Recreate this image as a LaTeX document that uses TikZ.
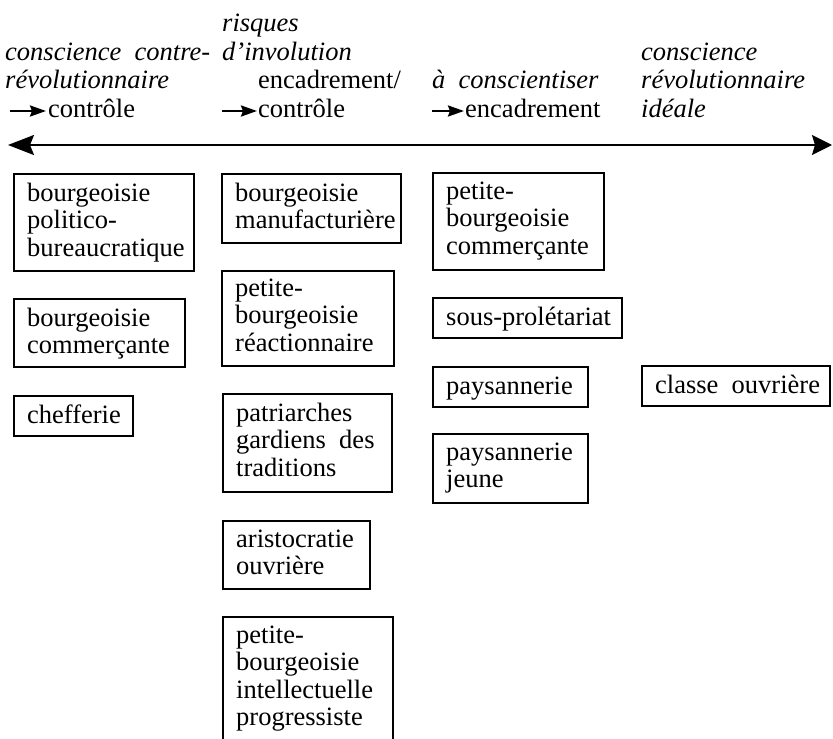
\documentclass[tikz,border=0pt]{standalone}
\usepackage{fontspec}
\setmainfont{Liberation Serif}
\usetikzlibrary{arrows.meta,calc}
\newcommand{\fsz}{\fontsize{26.5}{27.5}\selectfont}
\tikzset{
  clsbox/.style={draw, line width=1.5pt, anchor=north west, inner sep=0pt},
  clstext/.style={anchor=north west, align=left, inner sep=0pt, font=\fsz,
                  execute at begin node=\strut},
  hdr/.style={anchor=base west, inner sep=0pt, font=\fsz\itshape},
  hdrup/.style={anchor=base west, inner sep=0pt, font=\fsz},
  smallarr/.style={line width=2.4pt, -{Stealth[length=16pt,width=11pt,inset=2pt]}},
  axisarr/.style={line width=2pt,
     {Stealth[length=26pt,width=20pt,inset=4pt]}-{Stealth[length=20pt,width=20pt,inset=3pt]}}
}
\begin{document}
\begin{tikzpicture}[x=1pt,y=-1pt]
\useasboundingbox (0,0) rectangle (833,739);
\clip (0,0) rectangle (833,739);

% ---------- headers ----------
% column 1
\node[hdr] (h1a) at (5,60) {conscience\ \ contre-};
\node[hdr] (h1b) at (5,88) {révolutionnaire};
\node[hdrup] (h1c) at (48,117) {contrôle};
\coordinate (s1a) at (10,111);
\coordinate (s1b) at (46,111);
\draw[smallarr] (s1a) -- (s1b);
% column 2
\node[hdr] (h2a) at (222,31) {risques};
\node[hdr] (h2b) at (222,60) {d’involution};
\node[hdrup] (h2c) at (258,88) {encadrement/};
\node[hdrup] (h2d) at (258,117) {contrôle};
\coordinate (s2a) at (222,111);
\coordinate (s2b) at (257,111);
\draw[smallarr] (s2a) -- (s2b);
% column 3
\node[hdr] (h3a) at (432,88) {à\ \ conscientiser};
\node[hdrup] (h3b) at (465,117) {encadrement};
\coordinate (s3a) at (432,111);
\coordinate (s3b) at (464,111);
\draw[smallarr] (s3a) -- (s3b);
% column 4
\node[hdr] (h4a) at (641,60) {conscience};
\node[hdr] (h4b) at (641,88) {révolutionnaire};
\node[hdr] (h4c) at (641,117) {idéale};

% ---------- axis ----------
\coordinate (axL) at (8,145);
\coordinate (axR) at (832,145);
\draw[axisarr] (axL) -- (axR);

% ---------- column 1 ----------
\node[clsbox, minimum width=180pt, minimum height=97pt] (a1) at (13,173) {};
\node[clstext] (a1t) at ($(a1.north west)+(14,9.5)$) {bourgeoisie\\politico-\\bureaucratique};
\node[clsbox, minimum width=171pt, minimum height=68pt] (a2) at (13,298) {};
\node[clstext] (a2t) at ($(a2.north west)+(14,9.5)$) {bourgeoisie\\commerçante};
\node[clsbox, minimum width=119pt, minimum height=40pt] (a3) at (13,395) {};
\node[clstext] (a3t) at ($(a3.north west)+(14,9.5)$) {chefferie};

% ---------- column 2 ----------
\node[clsbox, minimum width=179pt, minimum height=69pt] (b1) at (221,173) {};
\node[clstext] (b1t) at ($(b1.north west)+(14,9.5)$) {bourgeoisie\\manufacturière};
\node[clsbox, minimum width=172pt, minimum height=95pt] (b2) at (221,270) {};
\node[clstext] (b2t) at ($(b2.north west)+(14,8.5)$) {petite-\\bourgeoisie\\réactionnaire};
\node[clsbox, minimum width=169pt, minimum height=98pt] (b3) at (222,393) {};
\node[clstext] (b3t) at ($(b3.north west)+(14,9.5)$) {patriarches\\gardiens\ \ des\\traditions};
\node[clsbox, minimum width=147pt, minimum height=68pt] (b4) at (222,520) {};
\node[clstext] (b4t) at ($(b4.north west)+(14,9.5)$) {aristocratie\\ouvrière};
\node[clsbox, minimum width=170pt, minimum height=126pt] (b5) at (222,616) {};
\node[clstext] (b5t) at ($(b5.north west)+(14,9.5)$) {petite-\\bourgeoisie\\intellectuelle\\progressiste};

% ---------- column 3 ----------
\node[clsbox, minimum width=171pt, minimum height=97pt] (c1) at (432,172) {};
\node[clstext] (c1t) at ($(c1.north west)+(14,9.5)$) {petite-\\bourgeoisie\\commerçante};
\node[clsbox, minimum width=189pt, minimum height=40pt] (c2) at (432,297) {};
\node[clstext] (c2t) at ($(c2.north west)+(14,9.5)$) {sous-prolétariat};
\node[clsbox, minimum width=155pt, minimum height=40pt] (c3) at (432,366) {};
\node[clstext] (c3t) at ($(c3.north west)+(14,9.5)$) {paysannerie};
\node[clsbox, minimum width=155pt, minimum height=69pt] (c4) at (432,433) {};
\node[clstext] (c4t) at ($(c4.north west)+(14,9.5)$) {paysannerie\\jeune};

% ---------- column 4 ----------
\node[clsbox, minimum width=188pt, minimum height=40pt] (d1) at (641,365) {};
\node[clstext] (d1t) at ($(d1.north west)+(14,9.5)$) {classe\ \ ouvrière};
\end{tikzpicture}
\end{document}
